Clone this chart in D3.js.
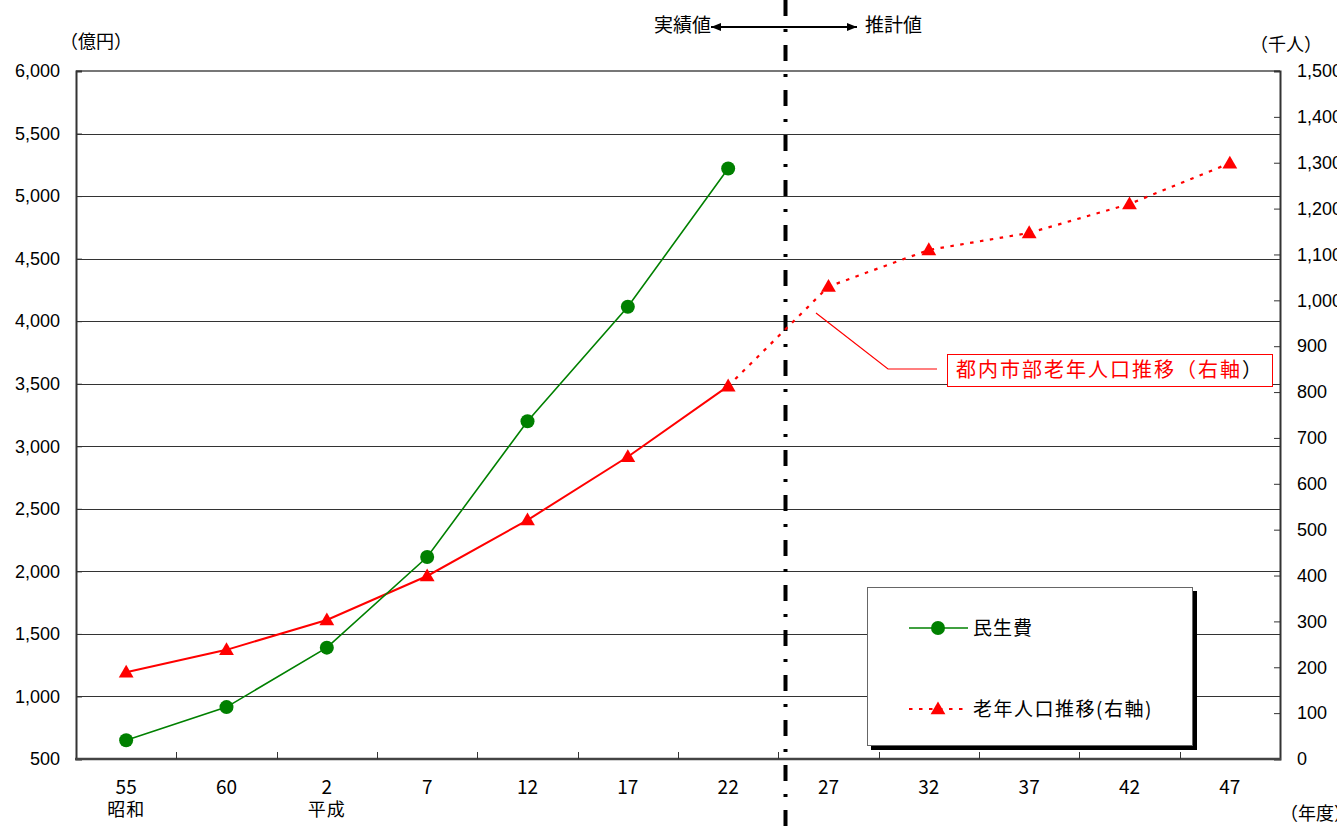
<!DOCTYPE html>
<html><head><meta charset="utf-8">
<script src="https://cdn.jsdelivr.net/npm/d3@7"></script>
<style>
body{margin:0;background:#fff;}
svg{display:block;}
text{font-family:"Liberation Sans",Arial,sans-serif;fill:#000;}
.jp{font-family:"Noto Sans CJK JP","Noto Sans",sans-serif;}
</style></head>
<body>
<svg id="c" width="1337" height="830"></svg>
<script>
const categories = ["55","60","2","7","12","17","22","27","32","37","42","47"];
const eraLabels = {"55":"昭和","2":"平成"};
const welfare = [650, 915, 1390, 2115, 3200, 4115, 5220]; // 民生費 (億円)
const elderly = [189, 238, 303, 399, 521, 659, 813, 1030, 1110, 1147, 1210, 1299]; // 老年人口 (千人)
const leftTicks = [500,1000,1500,2000,2500,3000,3500,4000,4500,5000,5500,6000];
const rightTicks = [0,100,200,300,400,500,600,700,800,900,1000,1100,1200,1300,1400,1500];
const actualCount = 7; // 実績値 up to 22

const svg = d3.select("#c");
const L=76, R=1280, T=71, B=759;
const x = d3.scaleBand().domain(categories).range([L,R]);
const yL = d3.scaleLinear().domain([500,6000]).range([B,T]);
const yR = d3.scaleLinear().domain([0,1500]).range([B,T]);
const cx = c => x(c)+x.bandwidth()/2;

// gridlines
svg.append("g").selectAll("line").data(leftTicks.filter(v=>v>500 && v<6000)).join("line")
  .attr("x1",L).attr("x2",R).attr("y1",d=>Math.round(yL(d))+0.5).attr("y2",d=>Math.round(yL(d))+0.5)
  .attr("stroke","#333").attr("stroke-width",1);
// top border
svg.append("line").attr("x1",L).attr("x2",R).attr("y1",T).attr("y2",T).attr("stroke","#777").attr("stroke-width",2);

// left axis
const gl = svg.append("g").attr("transform",`translate(${L},0)`)
  .call(d3.axisLeft(yL).tickValues(leftTicks).tickSize(-6).tickPadding(16).tickFormat(d3.format(",")));
gl.select(".domain").attr("stroke","#333").attr("stroke-width",2);
gl.selectAll(".tick line").attr("stroke","#333");
gl.selectAll("text").attr("font-size",18).attr("font-family","Liberation Sans, Arial, sans-serif");

// right axis
const gr = svg.append("g").attr("transform",`translate(${R},0)`)
  .call(d3.axisRight(yR).tickValues(rightTicks).tickSize(-6).tickPadding(17).tickFormat(d3.format(",")));
gr.select(".domain").attr("stroke","#333").attr("stroke-width",2);
gr.selectAll(".tick line").attr("stroke","#333");
gr.selectAll("text").attr("font-size",18).attr("font-family","Liberation Sans, Arial, sans-serif");

// bottom axis
const boundaries = categories.slice(1).map(c=>x(c));
svg.append("line").attr("x1",L-1).attr("x2",R+1).attr("y1",B).attr("y2",B).attr("stroke","#444").attr("stroke-width",2.5);
svg.append("g").selectAll("line").data(boundaries).join("line")
  .attr("x1",d=>Math.round(d)+0.5).attr("x2",d=>Math.round(d)+0.5).attr("y1",B-7).attr("y2",B).attr("stroke","#333");
const xl = svg.append("g");
xl.selectAll("text.n").data(categories).join("text").attr("class","jp n")
  .attr("x",cx).attr("y",794).attr("text-anchor","middle").attr("font-size",19).text(d=>d);
xl.selectAll("text.e").data(categories.filter(c=>eraLabels[c])).join("text").attr("class","jp e")
  .attr("x",cx).attr("y",816).attr("text-anchor","middle").attr("font-size",18).attr("letter-spacing",1).text(d=>eraLabels[d]);

// unit labels
svg.append("text").attr("class","jp").attr("x",60).attr("y",48).attr("font-size",18).text("（億円）");
svg.append("text").attr("class","jp").attr("x",1250).attr("y",51).attr("font-size",18).text("（千人）");
svg.append("text").attr("class","jp").attr("x",1280).attr("y",820).attr("font-size",18).text("（年度）");

// dash-dot divider
svg.append("line").attr("x1",785.5).attr("x2",785.5).attr("y1",0).attr("y2",830)
  .attr("stroke","#000").attr("stroke-width",4).attr("stroke-dasharray","16,13,3,13");

// top annotation
const defs = svg.append("defs");
defs.append("marker").attr("id","ah").attr("viewBox","0 0 10 10").attr("refX",10).attr("refY",5)
  .attr("markerWidth",10).attr("markerHeight",10).attr("markerUnits","userSpaceOnUse").attr("orient","auto-start-reverse")
  .append("path").attr("d","M0,1 L10,5 L0,9 Z").attr("fill","#000");
svg.append("line").attr("x1",711).attr("x2",857).attr("y1",27).attr("y2",27).attr("stroke","#000").attr("stroke-width",2)
  .attr("marker-start","url(#ah)").attr("marker-end","url(#ah)");
svg.append("text").attr("class","jp").attr("x",711).attr("y",32).attr("text-anchor","end").attr("font-size",19).text("実績値");
svg.append("text").attr("class","jp").attr("x",865).attr("y",32).attr("font-size",19).text("推計値");

// red elderly line
const pts = elderly.map((v,i)=>[cx(categories[i]), yR(v)]);
const line = d3.line();
svg.append("path").attr("d",line(pts.slice(0,actualCount))).attr("fill","none").attr("stroke","#ff0000").attr("stroke-width",2);
svg.append("path").attr("d",line(pts.slice(actualCount-1))).attr("fill","none").attr("stroke","#ff0000").attr("stroke-width",2.2)
  .attr("stroke-dasharray","3.5,6.5");

// green welfare line
const gpts = welfare.map((v,i)=>[cx(categories[i]), yL(v)]);
svg.append("path").attr("d",line(gpts)).attr("fill","none").attr("stroke","#008000").attr("stroke-width",1.6);

// markers
const tri = d3.symbol().type(d3.symbolTriangle).size(95);
svg.append("g").selectAll("path").data(pts).join("path")
  .attr("d",tri).attr("transform",d=>`translate(${d[0]},${d[1]+1})`).attr("fill","#ff0000");
svg.append("g").selectAll("circle").data(gpts).join("circle")
  .attr("cx",d=>d[0]).attr("cy",d=>d[1]).attr("r",7).attr("fill","#008000");

// callout
svg.append("polyline").attr("points","816,313 888,369 937,369").attr("fill","none").attr("stroke","#ff0000").attr("stroke-width",1.2);
svg.append("rect").attr("x",947.5).attr("y",354.5).attr("width",325).attr("height",32).attr("fill","#fff").attr("stroke","#ff0000").attr("stroke-width",1);
const ct = svg.append("text").attr("class","jp").attr("x",956).attr("y",377).attr("font-size",20).attr("letter-spacing",2);
ct.append("tspan").attr("fill","#ff0000").text("都内市部老年人口推移（右軸");
ct.append("tspan").attr("fill","#000").text("）");

// legend
const lg = svg.append("g");
lg.append("rect").attr("x",871).attr("y",591).attr("width",326).attr("height",159).attr("fill","#000");
lg.append("rect").attr("x",867.5).attr("y",587.5).attr("width",325).attr("height",158).attr("fill","#fff").attr("stroke","#666").attr("stroke-width",1);
lg.append("line").attr("x1",909).attr("x2",968).attr("y1",628).attr("y2",628).attr("stroke","#008000").attr("stroke-width",1.6);
lg.append("circle").attr("cx",938).attr("cy",628).attr("r",7).attr("fill","#008000");
lg.append("text").attr("class","jp").attr("x",973).attr("y",635).attr("font-size",19).attr("letter-spacing",1).text("民生費");
lg.append("line").attr("x1",909).attr("x2",968).attr("y1",709).attr("y2",709).attr("stroke","#ff0000").attr("stroke-width",2.2).attr("stroke-dasharray","3.5,6.5");
lg.append("path").attr("d",tri).attr("transform","translate(938,710)").attr("fill","#ff0000");
lg.append("text").attr("class","jp").attr("x",973).attr("y",716).attr("font-size",19).attr("letter-spacing",1.5).text("老年人口推移(右軸)");
</script>
</body></html>
